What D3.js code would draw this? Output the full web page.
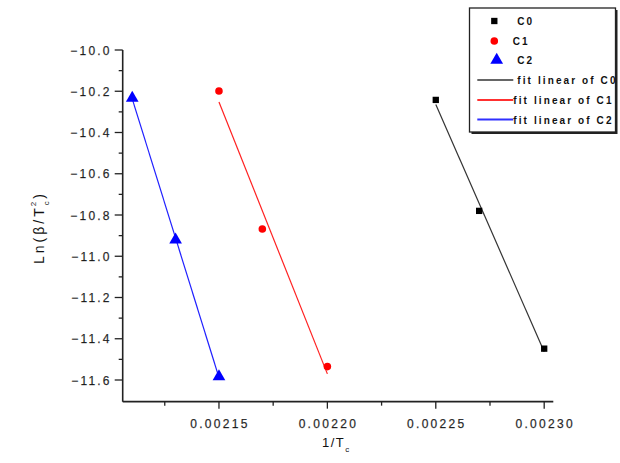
<!DOCTYPE html>
<html><head><meta charset="utf-8">
<script src="https://cdn.jsdelivr.net/npm/d3@7"></script>
<style>
body{margin:0;background:#fff;}
text{font-family:"Liberation Sans",Arial,sans-serif;fill:#111;}
</style></head>
<body><svg id="c" width="620" height="463"></svg>
<script>
const seriesNames = ["C0","C1","C2"];
const fitNames = ["fit linear of C0","fit linear of C1","fit linear of C2"];
const c0X = [0.00225, 0.00227, 0.00230];
const c0Y = [-10.242, -10.78, -11.448];
const c1X = [0.00215, 0.00217, 0.00220];
const c1Y = [-10.199, -10.868, -11.535];
const c2X = [0.00211, 0.00213, 0.00215];
const c2Y = [-10.233, -10.92, -11.584];
const xTicks = [0.00215, 0.00220, 0.00225, 0.00230];
const yTicks = [-10.0,-10.2,-10.4,-10.6,-10.8,-11.0,-11.2,-11.4,-11.6];
const colors = ["#000000","#ff0000","#0000ff"];
const fitColors = ["#333333","#ff2020","#2020ff"];

const svg = d3.select("#c");
const x = d3.scaleLinear().domain([0.0021056, 0.0023042]).range([122.7, 553.3]);
const y = d3.scaleLinear().domain([-10.0, -11.6]).range([50, 380]);
const yBottom = -11.705;

const series = [
  {x:c0X, y:c0Y}, {x:c1X, y:c1Y}, {x:c2X, y:c2Y}
];

// axes
const gx = svg.append("g").attr("transform", `translate(0,${y(yBottom)})`);
gx.append("line").attr("x1", x.range()[0]).attr("x2", x.range()[1]).attr("stroke","#222").attr("stroke-width",1.6);
const xMinor = d3.range(0.002125, 0.0023, 0.00005);
gx.selectAll(".xm").data(xMinor).join("line").attr("x1",d=>x(d)).attr("x2",d=>x(d)).attr("y1",0).attr("y2",4).attr("stroke","#222").attr("stroke-width",1.3);
gx.selectAll(".xM").data(xTicks).join("line").attr("x1",d=>x(d)).attr("x2",d=>x(d)).attr("y1",0).attr("y2",7).attr("stroke","#222").attr("stroke-width",1.3);
gx.selectAll(".xl").data(xTicks).join("text").attr("x",d=>x(d)+1).attr("y",26)
  .attr("text-anchor","middle").attr("font-size",12).attr("letter-spacing","2.3px")
  .attr("stroke","#555").attr("stroke-width",0.25)
  .text(d=>d3.format(".5f")(d));

const gy = svg.append("g");
gy.append("line").attr("x1",x.range()[0]).attr("x2",x.range()[0]).attr("y1",y(-10.0)).attr("y2",y(yBottom)).attr("stroke","#222").attr("stroke-width",1.6);
const yMinor = d3.range(-10.1, -11.7, -0.2);
gy.selectAll(".ym").data(yMinor).join("line").attr("x1",x.range()[0]-4).attr("x2",x.range()[0]).attr("y1",d=>y(d)).attr("y2",d=>y(d)).attr("stroke","#222").attr("stroke-width",1.3);
gy.selectAll(".yM").data(yTicks).join("line").attr("x1",x.range()[0]-8).attr("x2",x.range()[0]).attr("y1",d=>y(d)).attr("y2",d=>y(d)).attr("stroke","#222").attr("stroke-width",1.3);
gy.selectAll(".yl").data(yTicks).join("text").attr("x",x.range()[0]-11).attr("y",d=>y(d)+4.5)
  .attr("text-anchor","end").attr("font-size",12).attr("letter-spacing","2.2px")
  .attr("stroke","#555").attr("stroke-width",0.25)
  .text(d=>d3.format(".1f")(d));

// axis titles
const xt = svg.append("text").attr("x",322).attr("y",447).attr("font-size",13).attr("letter-spacing","1.5px");
xt.append("tspan").text("1/T");
xt.append("tspan").attr("font-size",8).attr("dy",5).text("c");

const yt = svg.append("text").attr("transform","translate(44,264) rotate(-90)").attr("font-size",14).attr("letter-spacing","3px");
yt.append("tspan").text("Ln(β/T");
yt.append("tspan").attr("font-size",8).attr("dy",5).text("c");
yt.append("tspan").attr("font-size",8).attr("dx",-8).attr("dy",-13).text("2");
yt.append("tspan").attr("dy",8).text(")");

// fit lines (least squares from data)
series.forEach((s,i)=>{
  const n = s.x.length;
  const mx = d3.mean(s.x), my = d3.mean(s.y);
  let sxy=0, sxx=0;
  for(let k=0;k<n;k++){ sxy += (s.x[k]-mx)*(s.y[k]-my); sxx += (s.x[k]-mx)**2; }
  const b = sxy/sxx, a = my - b*mx;
  const x0 = d3.min(s.x), x1 = d3.max(s.x);
  svg.append("line").attr("x1",x(x0)).attr("y1",y(a+b*x0)).attr("x2",x(x1)).attr("y2",y(a+b*x1))
    .attr("stroke",fitColors[i]).attr("stroke-width",1.2);
});

// markers
const symTypes = [d3.symbolSquare, d3.symbolCircle, d3.symbolTriangle];
const symSizes = [40, 45, 70];
series.forEach((s,i)=>{
  const pts = s.x.map((v,k)=>[v,s.y[k]]);
  svg.selectAll(".p"+i).data(pts).join("path")
    .attr("transform",d=>`translate(${x(d[0])},${y(d[1])})`)
    .attr("d", d3.symbol().type(symTypes[i]).size(symSizes[i]))
    .attr("fill",colors[i]);
});

// legend
const lg = svg.append("g");
lg.append("rect").attr("x",471.5).attr("y",10).attr("width",146).attr("height",124).attr("fill","#222");
lg.append("rect").attr("x",469.5).attr("y",8).attr("width",146).attr("height",124).attr("fill","#fff").attr("stroke","#222").attr("stroke-width",1.3);
const symY = [21, 41, 60];
const symX = [494.3, 494.3, 496.7];
const txtX = [517.3, 512.7, 517.3];
seriesNames.forEach((nm,i)=>{
  lg.append("path").attr("transform",`translate(${symX[i]},${symY[i]})`)
    .attr("d", d3.symbol().type(symTypes[i]).size(symSizes[i])).attr("fill",colors[i]);
  lg.append("text").attr("x",txtX[i]).attr("y",symY[i]+4).attr("font-size",10).attr("font-weight","bold").attr("letter-spacing","2px").text(nm);
});
const lineY = [80, 100, 119.5];
const legLineColors = ["#666666","#ff3030","#3030ff"];
const lineTxtX = [517.3, 513.3, 513.3];
fitNames.forEach((nm,i)=>{
  lg.append("line").attr("x1",477.3).attr("x2",513.3).attr("y1",lineY[i]).attr("y2",lineY[i]).attr("stroke",legLineColors[i]).attr("stroke-width",2);
  lg.append("text").attr("x",lineTxtX[i]).attr("y",lineY[i]+4).attr("font-size",10).attr("font-weight","bold").attr("letter-spacing","2.1px").text(nm);
});
</script></body></html>
